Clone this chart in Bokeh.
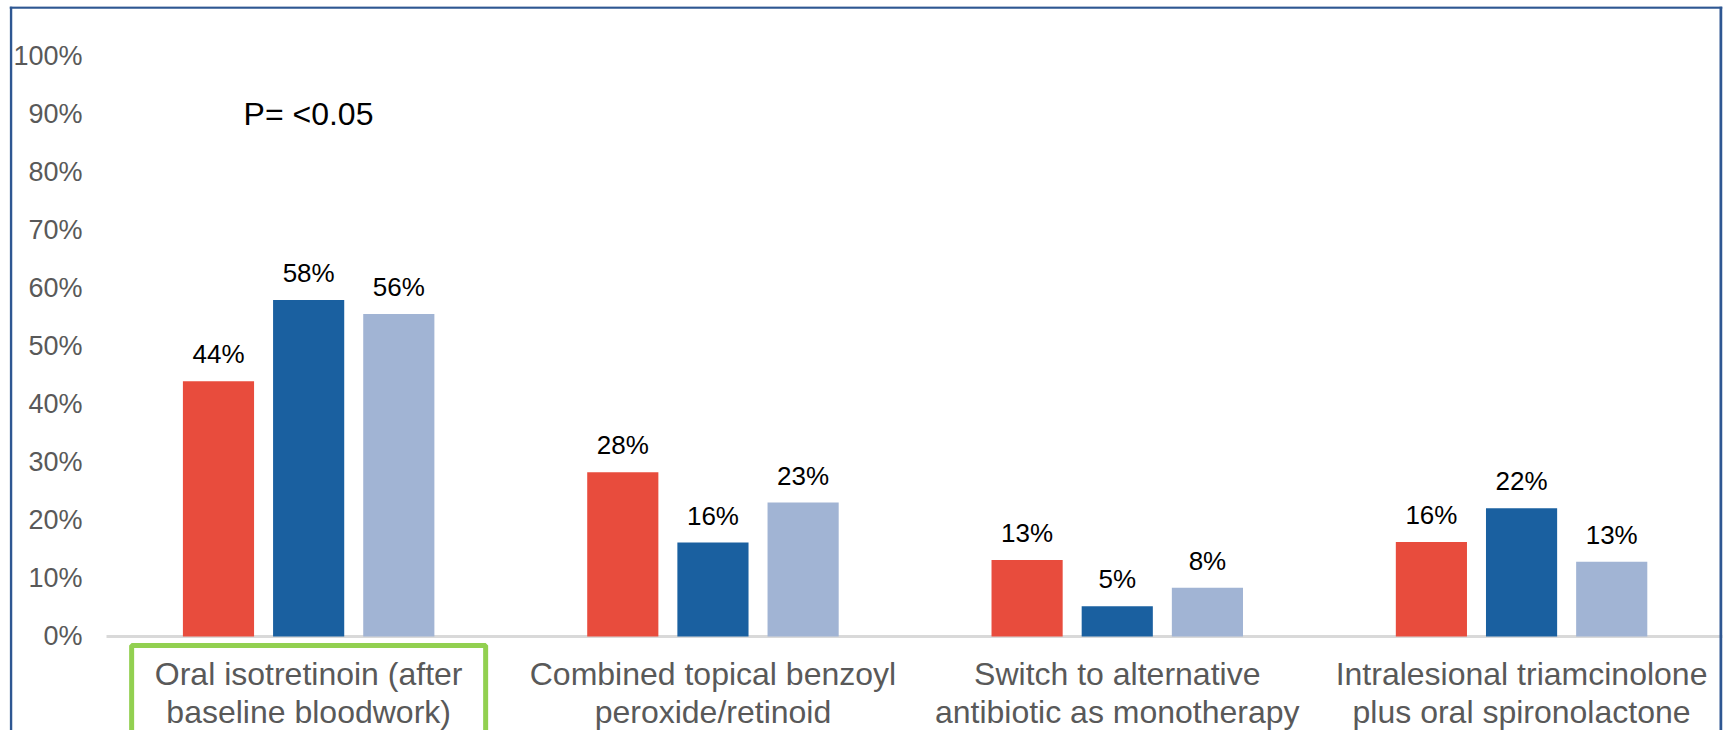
from bokeh.plotting import figure
from bokeh.models import (ColumnDataSource, Range1d, FixedTicker, PrintfTickFormatter,
                          Span, Label)
from bokeh.core.properties import value
from bokeh.embed import file_html
from bokeh.resources import INLINE

# ---------------- data ----------------
categories = [
    "Oral isotretinoin (after\nbaseline bloodwork)",
    "Combined topical benzoyl\nperoxide/retinoid",
    "Switch to alternative\nantibiotic as monotherapy",
    "Intralesional triamcinolone\nplus oral spironolactone",
]
series_1 = [44.0, 28.3, 13.2, 16.3]   # red
series_2 = [58.0, 16.2, 5.2, 22.1]    # dark blue
series_3 = [55.6, 23.1, 8.4, 12.9]    # light blue
y_ticks = [0, 10, 20, 30, 40, 50, 60, 70, 80, 90, 100]
p_value_text = "P= <0.05"
highlighted = "Oral isotretinoin (after\nbaseline bloodwork)"

# ---------------- styling ----------------
FONT = "Liberation Sans"
colors = ["#E84C3D", "#1A60A0", "#A1B4D4"]
offsets = [-0.223, 0.0, 0.223]
bar_width = 0.176
W, H = 1725, 730
BORDER = "#2E5792"

p = figure(width=W, height=H, output_backend="svg", toolbar_location=None,
           x_range=Range1d(-0.2399, 3.9970), y_range=Range1d(-16.207, 108.62),
           x_axis_location=None, min_border_left=9, min_border_right=3,
           min_border_top=6, min_border_bottom=0)
p.outline_line_color = None
p.xgrid.visible = False
p.ygrid.visible = False
p.background_fill_color = "white"
p.border_fill_color = "white"

# y axis (labels placed inside the chart area)
ax = p.yaxis[0]
ax.ticker = FixedTicker(ticks=y_ticks)
ax.formatter = PrintfTickFormatter(format="%d%%")
ax.axis_line_color = None
ax.major_tick_line_color = None
ax.minor_tick_line_color = None
ax.major_tick_out = 0
ax.major_tick_in = 0
ax.major_label_standoff = -73
ax.major_label_text_font = FONT
ax.major_label_text_font_size = "27px"
ax.major_label_text_color = "#595959"

# baseline (category axis line)
p.segment(x0=[0], x1=[len(categories)], y0=[0], y1=[0],
          line_color="#D9D9D9", line_width=3)

# bars + value labels
for vals, col, off in zip([series_1, series_2, series_3], colors, offsets):
    xs = [i + 0.5 + off for i in range(len(categories))]
    src = ColumnDataSource(dict(x=xs, top=vals, lab=[f"{round(v)}%" for v in vals]))
    p.vbar(x="x", top="top", bottom=0, width=bar_width, source=src,
           fill_color=col, line_color=None)
    p.text(x="x", y="top", text="lab", source=src, text_align="center",
           text_baseline="alphabetic", y_offset=-27, text_font=value(FONT),
           text_font_size="26px", text_color="black")

# category labels
cat_src = ColumnDataSource(dict(x=[i + 0.5 for i in range(len(categories))],
                                y=[-3.4] * len(categories), text=categories))
p.text(x="x", y="y", text="text", source=cat_src, text_align="center",
       text_baseline="top", text_font=value(FONT), text_font_size="32px",
       text_color="#595959", text_line_height=1.04)

# green highlight box around the first category label
hi = categories.index(highlighted) + 0.5
p.quad(left=[hi - 0.4378], right=[hi + 0.4378], top=[-1.55], bottom=[-40],
       fill_color=None, line_color="#92D050", line_width=5)

# p-value annotation
p.add_layout(Label(x=0.339, y=90, text=p_value_text, text_font=FONT,
                   text_font_size="32px", text_color="black",
                   text_baseline="middle", text_align="left"))

# outer chart border (left, top, right)
p.add_layout(Span(location=10.5, location_units="canvas", dimension="height",
                  line_color=BORDER, line_width=2.5))
p.add_layout(Span(location=1720.5, location_units="canvas", dimension="height",
                  line_color=BORDER, line_width=3))
p.add_layout(Span(location=7, location_units="canvas", dimension="width",
                  line_color=BORDER, line_width=2.5))

open("out.html", "w").write(file_html(p, INLINE))
